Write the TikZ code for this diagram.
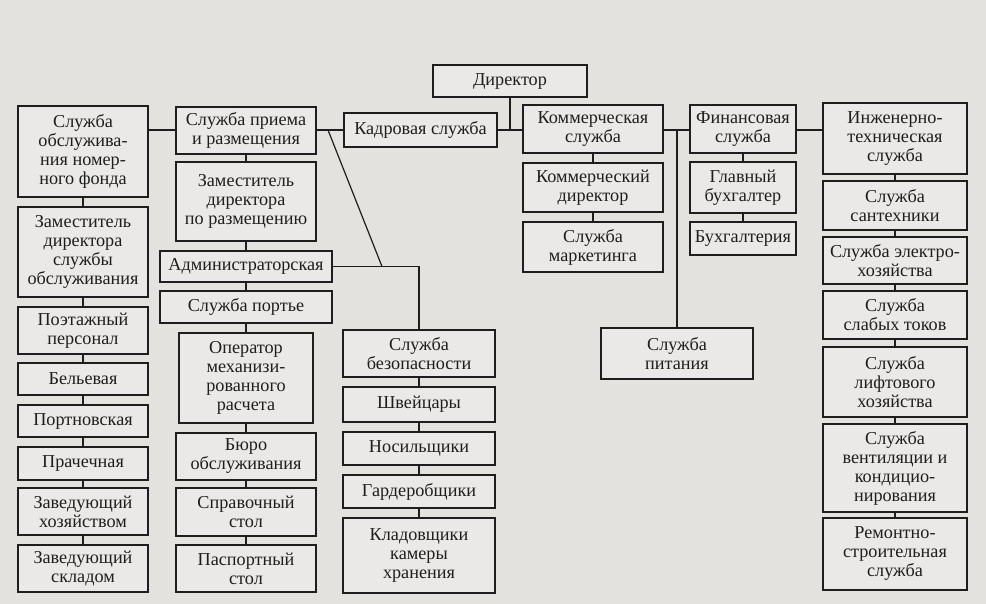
\documentclass[tikz,border=0pt]{standalone}
\usepackage{fontspec}
\setmainfont{Liberation Serif}
\definecolor{bgc}{HTML}{E4E2DF}
\definecolor{boxc}{HTML}{EAE9E7}
\definecolor{inkc}{HTML}{1E1E1E}
\newcommand\bx[6]{\node[box, minimum width={#4-#2}, minimum height={#5-#3}] (#1) at ({(#2+#4)/2},{(#3+#5)/2}) {#6};}
\begin{document}
\begin{tikzpicture}[x=1pt,y=-1pt,
  box/.style={draw=inkc, fill=boxc, line width=1.3pt, align=center, inner sep=0pt, text=inkc,
    font=\fontsize{18.2}{19}\selectfont},
  link/.style={draw=inkc, line width=1.2pt}]
\fill[bgc] (0,0) rectangle (986,604);
\useasboundingbox (0,0) rectangle (986,604);
\coordinate (main) at (0,130);
% left column
\bx{obs}{18}{106}{148}{197}{Служба\\обслужива-\\ния номер-\\ного фонда}
\bx{zamo}{18}{207}{148}{297}{Заместитель\\директора\\службы\\обслуживания}
\bx{poet}{18}{307}{148}{354}{Поэтажный\\персонал}
\bx{bel}{18}{363}{148}{395}{Бельевая}
\bx{port}{18}{405}{148}{437}{Портновская}
\bx{prach}{18}{447}{148}{480}{Прачечная}
\bx{zavh}{18}{488}{148}{535}{Заведующий\\хозяйством}
\bx{zavs}{18}{545}{148}{592}{Заведующий\\складом}
% middle column
\bx{priem}{176}{107}{316}{154}{Служба приема\\и размещения}
\bx{zamr}{176}{162}{316}{241}{Заместитель\\директора\\по размещению}
\bx{adm}{160}{251}{332}{282}{Администраторская}
\bx{portie}{160}{291}{332}{323}{Служба портье}
\bx{oper}{179}{333}{313}{423}{Оператор\\механизи-\\рованного\\расчета}
\bx{buro}{176}{433}{316}{480}{Бюро\\обслуживания}
\bx{sprav}{176}{488}{316}{536}{Справочный\\стол}
\bx{pasp}{176}{545}{316}{592}{Паспортный\\стол}
% personnel / security
\bx{kadr}{344}{113}{497}{147}{Кадровая служба}
\bx{bez}{343}{330}{495}{377}{Служба\\безопасности}
\bx{shv}{343}{387}{495}{422}{Швейцары}
\bx{nos}{343}{432}{495}{465}{Носильщики}
\bx{gard}{343}{475}{495}{508}{Гардеробщики}
\bx{klad}{343}{518}{495}{593}{Кладовщики\\камеры\\хранения}
% director
\bx{dir}{433}{65}{587}{97}{Директор}
% commercial
\bx{komm}{523}{105}{663}{153}{Коммерческая\\служба}
\bx{kdir}{523}{163}{663}{212}{Коммерческий\\директор}
\bx{mark}{523}{222}{663}{272}{Служба\\маркетинга}
% finance
\bx{fin}{690}{105}{796}{153}{Финансовая\\служба}
\bx{gb}{690}{162}{796}{213}{Главный\\бухгалтер}
\bx{buh}{690}{222}{796}{255}{Бухгалтерия}
\bx{pit}{601}{328}{753}{379}{Служба\\питания}
% engineering
\bx{ing}{823}{103}{967}{174}{Инженерно-\\техническая\\служба}
\bx{sant}{823}{181}{967}{230}{Служба\\сантехники}
\bx{el}{823}{237}{967}{284}{Служба электро-\\хозяйства}
\bx{slab}{823}{291}{967}{339}{Служба\\слабых токов}
\bx{lift}{823}{347}{967}{417}{Служба\\лифтового\\хозяйства}
\bx{vent}{823}{424}{967}{512}{Служба\\вентиляции и\\кондицио-\\нирования}
\bx{rem}{823}{518}{967}{590}{Ремонтно-\\строительная\\служба}
% connectors along the top line
\draw[link] (obs.east |- main) -- (priem.west |- main);
\draw[link] (priem.east |- main) -- (kadr.west |- main);
\draw[link] (kadr.east |- main) -- (komm.west |- main);
\draw[link] (dir.south) -- (dir.south |- main);
\draw[link] (komm.east |- main) -- (fin.west |- main);
\draw[link] (fin.east |- main) -- (ing.west |- main);
\draw[link] (pit.north) -- (pit.north |- main);
% diagonal and security branch
\coordinate (dA) at (328,130);
\coordinate (dB) at (382,266.5);
\draw[link] (dA) -- (dB);
\draw[link] (adm.east) -| (bez.north);
% vertical chains
\foreach \a/\b in {obs/zamo,zamo/poet,poet/bel,bel/port,port/prach,prach/zavh,zavh/zavs,
  priem/zamr,zamr/adm,adm/portie,portie/oper,oper/buro,buro/sprav,sprav/pasp,
  bez/shv,shv/nos,nos/gard,gard/klad,
  komm/kdir,kdir/mark,fin/gb,gb/buh,
  ing/sant,sant/el,el/slab,slab/lift,lift/vent,vent/rem}
  \draw[link] (\a.south) -- (\b.north);
\end{tikzpicture}
\end{document}
